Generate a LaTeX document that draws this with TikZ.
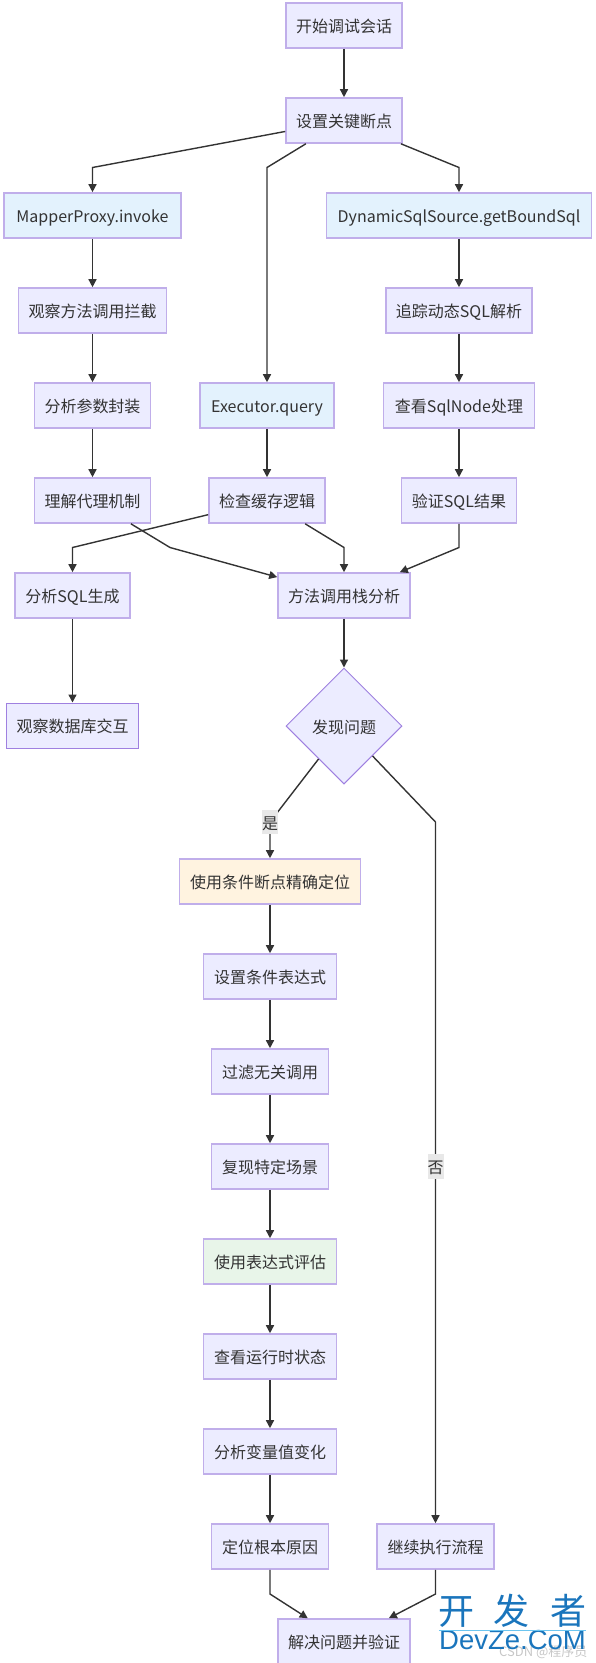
\documentclass[tikz,border=0pt]{standalone}
\usepackage{fontspec}
\setmainfont{Noto Sans CJK SC}
\newfontfamily\markfont{Liberation Sans}
\usepackage{xcolor}
\usetikzlibrary{arrows.meta, shapes.geometric}
\definecolor{flowstroke}{HTML}{C0AEEA}
\definecolor{thinstroke}{HTML}{9F80E0}
\definecolor{flowfill}{HTML}{ECECFF}
\definecolor{flowink}{HTML}{333333}
\definecolor{lightblue}{HTML}{E3F2FD}
\definecolor{lightorange}{HTML}{FFF3E0}
\definecolor{lightmint}{HTML}{E8F5E9}
\definecolor{labelgrey}{HTML}{E8E8E8}
\definecolor{markblue}{HTML}{1A75BC}
\definecolor{markline}{HTML}{6CC5F0}
\tikzset{
    flowbox/.style={draw=flowstroke, fill=flowfill, line width=1.6pt, text=flowink,
        inner sep=0pt, minimum height=45pt, text height=16pt, text depth=2pt,
        font=\fontsize{16}{18}\selectfont},
    decision/.style={flowbox, diamond, draw=thinstroke, line width=1pt,
        minimum width=116pt, minimum height=116pt},
    flow/.style={draw=flowink, line width=1.4pt, -{Triangle[length=8pt, width=8pt]}},
    edgelabel/.style={fill=labelgrey, text=flowink, inner sep=0pt, minimum width=16pt,
        minimum height=24.5pt, text height=16pt, text depth=2pt,
        font=\fontsize{16}{18}\selectfont},
}
\begin{document}
\begin{tikzpicture}[x=1pt, y=-1pt]
    \useasboundingbox (0,0) rectangle (596,1663);
    \node[flowbox, minimum width=116pt] (sessionStart) at (344,25.5) {开始调试会话};
    \node[flowbox, minimum width=116pt] (keyBreak) at (344,120.5) {设置关键断点};
    \node[flowbox, fill=lightblue, minimum width=177pt] (mapperProxy) at (92.5,215.5) {MapperProxy.invoke};
    \node[flowbox, fill=lightblue, minimum width=265pt] (sqlSource) at (459,215.5) {DynamicSqlSource.getBoundSql};
    \node[flowbox, minimum width=148pt] (watchCall) at (92.5,310.5) {观察方法调用拦截};
    \node[flowbox, minimum width=146pt] (traceSql) at (459,310.5) {追踪动态SQL解析};
    \node[flowbox, minimum width=116pt] (wrapArgs) at (92.5,405.5) {分析参数封装};
    \node[flowbox, fill=lightblue, minimum width=134pt] (execQuery) at (267,405.5) {Executor.query};
    \node[flowbox, minimum width=151pt] (sqlNode) at (459,405.5) {查看SqlNode处理};
    \node[flowbox, minimum width=116pt] (proxyMech) at (92.5,500.5) {理解代理机制};
    \node[flowbox, minimum width=116pt] (cacheLogic) at (267,500.5) {检查缓存逻辑};
    \node[flowbox, minimum width=115pt] (checkSql) at (459,500.5) {验证SQL结果};
    \node[flowbox, minimum width=115pt] (sqlBuild) at (72.5,595.5) {分析SQL生成};
    \node[flowbox, minimum width=132pt] (callStack) at (344,595.5) {方法调用栈分析};
    \node[flowbox, draw=thinstroke, line width=1pt, minimum width=132pt] (dbWatch) at (72.5,725.5) {观察数据库交互};
    \node[decision] (foundIssue) at (344,726) {发现问题};
    \node[flowbox, fill=lightorange, minimum width=181pt] (condBreak) at (270,881.5) {使用条件断点精确定位};
    \node[flowbox, minimum width=133pt] (condExpr) at (270,976.5) {设置条件表达式};
    \node[flowbox, minimum width=117pt] (dropCalls) at (270,1071.5) {过滤无关调用};
    \node[flowbox, minimum width=117pt] (replayCase) at (270,1166.5) {复现特定场景};
    \node[flowbox, fill=lightmint, minimum width=133pt] (evalExpr) at (270,1261.5) {使用表达式评估};
    \node[flowbox, minimum width=133pt] (runState) at (270,1356.5) {查看运行时状态};
    \node[flowbox, minimum width=133pt] (varChange) at (270,1451.5) {分析变量值变化};
    \node[flowbox, minimum width=117pt] (rootCause) at (270,1546.5) {定位根本原因};
    \node[flowbox, minimum width=117pt] (keepGoing) at (435.5,1546.5) {继续执行流程};
    \node[flowbox, minimum width=132pt] (fixCheck) at (344,1641.5) {解决问题并验证};

    \coordinate (bendMapper) at (92.5,167.5);
    \coordinate (bendQuery) at (267,167.5);
    \coordinate (bendSource) at (459,167.5);
    \coordinate (bendProxy) at (170,547.5);
    \coordinate (bendBuild) at (72.5,547.5);
    \coordinate (bendCache) at (344,547.5);
    \coordinate (bendCheck) at (459,547.5);
    \coordinate (bendYes) at (270,822);
    \coordinate (bendNo) at (435.5,822);
    \coordinate (bendRoot) at (270,1594);
    \coordinate (bendKeep) at (435.5,1594);

    \draw[flow] (sessionStart) -- (keyBreak);
    \draw[flow] (keyBreak) -- (bendMapper) -- (mapperProxy);
    \draw[flow] (keyBreak) -- (bendQuery) -- (execQuery);
    \draw[flow] (keyBreak) -- (bendSource) -- (sqlSource);
    \draw[flow] (mapperProxy) -- (watchCall);
    \draw[flow] (watchCall) -- (wrapArgs);
    \draw[flow] (wrapArgs) -- (proxyMech);
    \draw[flow] (sqlSource) -- (traceSql);
    \draw[flow] (traceSql) -- (sqlNode);
    \draw[flow] (sqlNode) -- (checkSql);
    \draw[flow] (execQuery) -- (cacheLogic);
    \draw[flow] (cacheLogic) -- (bendBuild) -- (sqlBuild);
    \draw[flow] (sqlBuild) -- (dbWatch);
    \draw[flow] (proxyMech) -- (bendProxy) -- (callStack);
    \draw[flow] (cacheLogic) -- (bendCache) -- (callStack);
    \draw[flow] (checkSql) -- (bendCheck) -- (callStack);
    \draw[flow] (callStack) -- (foundIssue);
    \draw[flow] (foundIssue) -- (bendYes) -- (condBreak);
    \draw[flow] (foundIssue) -- (bendNo) -- (keepGoing);
    \draw[flow] (condBreak) -- (condExpr);
    \draw[flow] (condExpr) -- (dropCalls);
    \draw[flow] (dropCalls) -- (replayCase);
    \draw[flow] (replayCase) -- (evalExpr);
    \draw[flow] (evalExpr) -- (runState);
    \draw[flow] (runState) -- (varChange);
    \draw[flow] (varChange) -- (rootCause);
    \draw[flow] (rootCause) -- (bendRoot) -- (fixCheck);
    \draw[flow] (keepGoing) -- (bendKeep) -- (fixCheck);

    \node[edgelabel] (yesLabel) at (bendYes) {是};
    \node[edgelabel] (noLabel) at (435.5,1166.5) {否};

    \node[text=black!22, font=\fontsize{13}{15}\selectfont, anchor=west, inner sep=0pt] (csdnMark) at (499,1652) {CSDN @程序员};
    \node[text=markblue, font=\fontsize{36}{38}\selectfont, inner sep=0pt] (markTop) at (512,1611) {开\hspace{20pt}发\hspace{20pt}者};
    \node[text=markblue, font=\markfont\fontsize{27.5}{29}\selectfont, inner sep=0pt] (markBottom) at (512.5,1640) {DevZe.CoM};
    \draw[markline, line width=0.8pt] (markBottom.north west) -- (markBottom.north east);
\end{tikzpicture}
\end{document}
